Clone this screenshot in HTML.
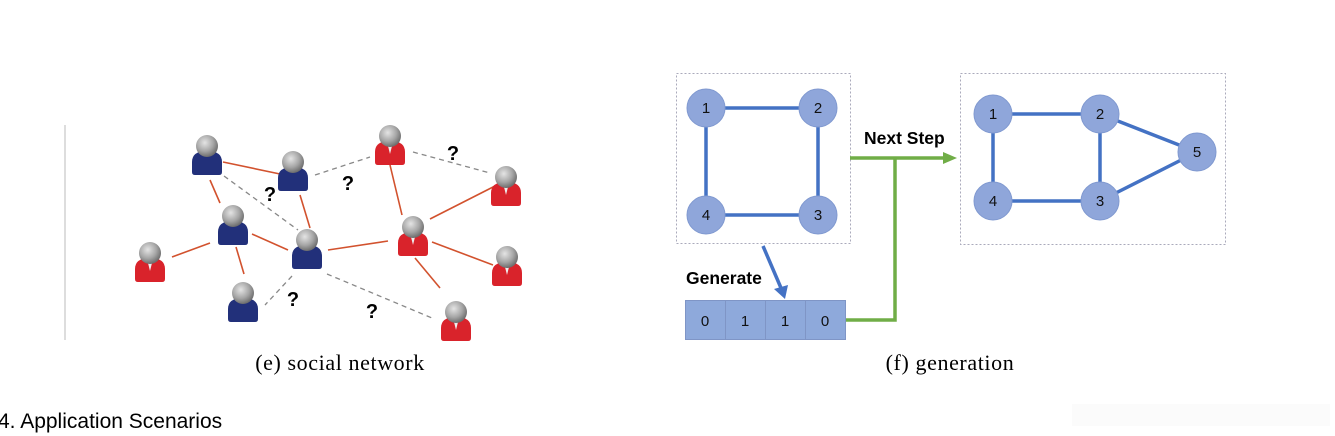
<!DOCTYPE html>
<html><head><meta charset="utf-8"><style>
html,body{margin:0;padding:0;background:#fff;width:1335px;height:436px;overflow:hidden}
</style></head><body>
<svg width="1335" height="436" viewBox="0 0 1335 436" xmlns="http://www.w3.org/2000/svg">
<defs>
<radialGradient id="hg" cx="0.4" cy="0.35" r="0.65">
<stop offset="0" stop-color="#e4e4e4"/><stop offset="0.6" stop-color="#a6a6a6"/><stop offset="1" stop-color="#6e6e6e"/>
</radialGradient>
<g id="pb"><path d="M-15,26 L-15,16 Q-15,5 0,5 Q15,5 15,16 L15,26 Q15,29 12,29 L-12,29 Q-15,29 -15,26Z" fill="#22307a"/><circle cx="0" cy="0" r="11" fill="url(#hg)"/></g>
<g id="pr"><path d="M-15,26 L-15,16 Q-15,5 0,5 Q15,5 15,16 L15,26 Q15,29 12,29 L-12,29 Q-15,29 -15,26Z" fill="#d9232b"/><path d="M-2,10 L0,18 L2,10Z" fill="#eee"/><circle cx="0" cy="0" r="11" fill="url(#hg)"/></g>
</defs>
<line x1="65" y1="125" x2="65" y2="340" stroke="#bbb" stroke-width="1"/>
<g stroke="#d2522e" stroke-width="1.6">
<line x1="223" y1="162" x2="280" y2="174"/>
<line x1="210" y1="180" x2="220" y2="203"/>
<line x1="210" y1="243" x2="172" y2="257"/>
<line x1="236" y1="247" x2="244" y2="274"/>
<line x1="252" y1="234" x2="288" y2="250"/>
<line x1="300" y1="195" x2="310" y2="228"/>
<line x1="328" y1="250" x2="388" y2="241"/>
<line x1="390" y1="165" x2="402" y2="215"/>
<line x1="430" y1="219" x2="495" y2="186"/>
<line x1="432" y1="242" x2="493" y2="265"/>
<line x1="415" y1="258" x2="440" y2="288"/>
</g>
<g stroke="#888" stroke-width="1.3" stroke-dasharray="5,4" fill="none">
<line x1="224" y1="176" x2="298" y2="230"/>
<line x1="315" y1="175" x2="370" y2="157"/>
<line x1="413" y1="152" x2="490" y2="173"/>
<line x1="292" y1="276" x2="265" y2="305"/>
<line x1="327" y1="274" x2="432" y2="318"/>
</g>
<use href="#pb" x="207" y="146"/>
<use href="#pb" x="293" y="162"/>
<use href="#pb" x="233" y="216"/>
<use href="#pb" x="307" y="240"/>
<use href="#pb" x="243" y="293"/>
<use href="#pr" x="390" y="136"/>
<use href="#pr" x="506" y="177"/>
<use href="#pr" x="413" y="227"/>
<use href="#pr" x="150" y="253"/>
<use href="#pr" x="507" y="257"/>
<use href="#pr" x="456" y="312"/>
<g font-family="Liberation Sans, sans-serif" font-weight="bold" font-size="20" fill="#000" text-anchor="middle">
<text x="270" y="201">?</text><text x="348" y="190">?</text><text x="453" y="160">?</text>
<text x="293" y="306">?</text><text x="372" y="318">?</text>
</g>
<rect x="676.5" y="73.5" width="174" height="170" fill="none" stroke="#aab" stroke-dasharray="2,2"/>
<rect x="960.5" y="73.5" width="265" height="171" fill="none" stroke="#aab" stroke-dasharray="2,2"/>
<g stroke="#4472c4" stroke-width="3.5">
<line x1="706" y1="108" x2="818" y2="108"/><line x1="706" y1="108" x2="706" y2="215"/>
<line x1="818" y1="108" x2="818" y2="215"/><line x1="706" y1="215" x2="818" y2="215"/>
<line x1="993" y1="114" x2="1100" y2="114"/><line x1="993" y1="114" x2="993" y2="201"/>
<line x1="1100" y1="114" x2="1100" y2="201"/><line x1="993" y1="201" x2="1100" y2="201"/>
<line x1="1100" y1="114" x2="1197" y2="152"/><line x1="1100" y1="201" x2="1197" y2="152"/>
<line x1="763" y1="246" x2="781" y2="288"/>
</g>
<path d="M774,289 L785,299 L788,285Z" fill="#4472c4"/>
<g fill="#8fa6da" stroke="#8099d0" stroke-width="1">
<circle cx="706" cy="108" r="19"/><circle cx="818" cy="108" r="19"/><circle cx="706" cy="215" r="19"/><circle cx="818" cy="215" r="19"/>
<circle cx="993" cy="114" r="19"/><circle cx="1100" cy="114" r="19"/><circle cx="993" cy="201" r="19"/><circle cx="1100" cy="201" r="19"/><circle cx="1197" cy="152" r="19"/>
</g>
<g font-family="Liberation Sans, sans-serif" font-size="15" fill="#111" text-anchor="middle">
<text x="706" y="113">1</text><text x="818" y="113">2</text><text x="706" y="220">4</text><text x="818" y="220">3</text>
<text x="993" y="119">1</text><text x="1100" y="119">2</text><text x="993" y="206">4</text><text x="1100" y="206">3</text><text x="1197" y="157">5</text>
</g>
<g stroke="#70ad47" stroke-width="3.5" fill="none">
<polyline points="850,158 945,158"/>
<polyline points="845,320 895,320 895,158"/>
</g>
<path d="M943,152 L957,158 L943,164Z" fill="#70ad47"/>
<g fill="#8ea9db" stroke="#7f95c6">
<rect x="685.5" y="300.5" width="40" height="39"/><rect x="725.5" y="300.5" width="40" height="39"/>
<rect x="765.5" y="300.5" width="40" height="39"/><rect x="805.5" y="300.5" width="40" height="39"/>
</g>
<g font-family="Liberation Sans, sans-serif" font-size="15" fill="#111" text-anchor="middle">
<text x="705" y="326">0</text><text x="745" y="326">1</text><text x="785" y="326">1</text><text x="825" y="326">0</text>
</g>
<g font-family="Liberation Sans, sans-serif" font-weight="bold" font-size="17.5" fill="#000">
<text x="686" y="284">Generate</text><text x="864" y="144">Next Step</text>
</g>
<g font-family="Liberation Serif, serif" font-size="22" fill="#000" text-anchor="middle" letter-spacing="0.6">
<text x="340" y="370">(e)  social network</text>
<text x="950" y="370">(f)  generation</text>
</g>
<rect x="1072" y="404" width="258" height="22" fill="#fbfbfb"/>
<text x="-2" y="428" font-family="Liberation Sans, sans-serif" font-size="21" fill="#000">4. Application Scenarios</text>
</svg>
</body></html>
